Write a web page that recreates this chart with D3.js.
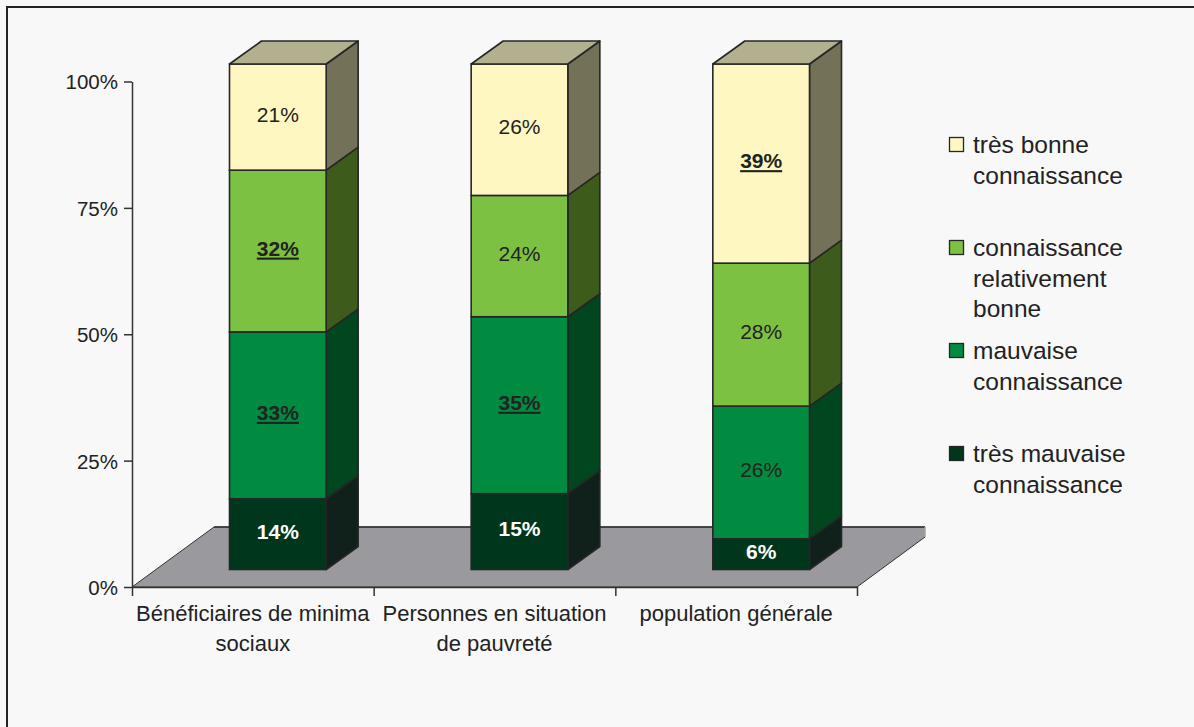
<!DOCTYPE html>
<html lang="fr">
<head>
<meta charset="utf-8">
<script src="https://cdn.jsdelivr.net/npm/d3@7"></script>
<style>
  html, body { margin: 0; padding: 0; background: #f8f8f8; }
  svg { display: block; font-family: "Liberation Sans", Arial, Helvetica, sans-serif; }
</style>
</head>
<body>
<svg id="chart" width="1194" height="727"></svg>
<script>
// Categories (x axis), each split into its displayed lines
const categories = ["Bénéficiaires de minima sociaux", "Personnes en situation de pauvreté", "population générale"];
const categoryLines = [["Bénéficiaires de minima", "sociaux"], ["Personnes en situation", "de pauvreté"], ["population générale"]];

// Series, stacked from bottom to top
const seriesKeys = ["tresMauvaise", "mauvaise", "relBonne", "tresBonne"];
const seriesNames = ["très mauvaise connaissance", "mauvaise connaissance", "connaissance relativement bonne", "très bonne connaissance"];
const legendLines = [["très mauvaise", "connaissance"], ["mauvaise", "connaissance"], ["connaissance", "relativement", "bonne"], ["très bonne", "connaissance"]];

// Shares (%) per category
const tresMauvaise = [14, 15, 6];
const mauvaise     = [33, 35, 26];
const relBonne     = [32, 24, 28];
const tresBonne    = [21, 26, 39];

// Labels shown bold and underlined
const emphMauvaise  = [true, true, false];
const emphRelBonne  = [true, false, false];
const emphTresBonne = [false, false, true];

const yTicks = [0, 0.25, 0.5, 0.75, 1];

// Face colours per series: front, side
const frontColors = ["#00361c", "#008b41", "#7dc142", "#fff7c1"];
const sideColors  = ["#10201a", "#00461f", "#3d5b1a", "#737158"];
const topColor = "#b3b08f";

const rows = categories.map((c, i) => ({
  category: c, i,
  tresMauvaise: tresMauvaise[i], mauvaise: mauvaise[i], relBonne: relBonne[i], tresBonne: tresBonne[i]
}));
const emphasis = {
  tresMauvaise: [false, false, false],
  mauvaise: emphMauvaise, relBonne: emphRelBonne, tresBonne: emphTresBonne
};

const stacked = d3.stack().keys(seriesKeys).offset(d3.stackOffsetExpand)(rows);

const svg = d3.select("#chart");

// Chart frame
svg.append("rect")
  .attr("x", 7).attr("y", 7).attr("width", 1250).attr("height", 800)
  .attr("fill", "#f8f8f8").attr("stroke", "#222").attr("stroke-width", 2);

// Front plane geometry
const x0 = 132, x1 = 857, yBase = 587, yTop = 81.5;
const floorDepth = [82, -60];   // projection of the full floor depth
const barShift = [25, -17.5];   // bar front face placed inside the floor
const barDepth = [32, -23];     // bar thickness

const x = d3.scaleBand().domain(categories).range([x0, x1]).paddingInner(0.6).paddingOuter(0.3);
const xEdges = d3.scaleLinear().domain([0, categories.length]).range([x0, x1]);
const y = d3.scaleLinear().domain([0, 1]).range([yBase, yTop]);

// Floor
const floorPts = [
  [x0, yBase],
  [x0 + floorDepth[0], yBase + floorDepth[1]],
  [x1 + floorDepth[0] - 14, yBase + floorDepth[1]],
  [x1 + floorDepth[0] - 14, yBase + floorDepth[1] + 10],
  [x1, yBase]
];
svg.append("polygon")
  .attr("points", floorPts.map(p => p.join(",")).join(" "))
  .attr("fill", "#9a9a9e").attr("stroke", "#333").attr("stroke-width", 1);
svg.append("line")
  .attr("x1", floorPts[1][0]).attr("y1", floorPts[1][1])
  .attr("x2", floorPts[2][0]).attr("y2", floorPts[2][1])
  .attr("stroke", "#333").attr("stroke-width", 1.6);
svg.append("line")
  .attr("x1", floorPts[2][0]).attr("y1", floorPts[2][1])
  .attr("x2", floorPts[3][0]).attr("y2", floorPts[3][1])
  .attr("stroke", "#ddd").attr("stroke-width", 1);

// Y axis
const yAxis = svg.append("g")
  .attr("transform", `translate(${x0},0)`)
  .call(d3.axisLeft(y).tickValues(yTicks).tickFormat(d3.format(".0%")).tickSize(8).tickSizeOuter(0));
yAxis.select(".domain").attr("stroke", "#333").attr("stroke-width", 1.5);
yAxis.selectAll(".tick line").attr("stroke", "#333").attr("stroke-width", 1.5);
yAxis.selectAll(".tick text")
  .attr("x", -14).attr("dy", "0.36em")
  .attr("fill", "#222").attr("font-size", "20.5px").attr("font-family", null);

// X axis (ticks between categories)
const xAxis = svg.append("g")
  .attr("transform", `translate(0,${yBase})`)
  .call(d3.axisBottom(xEdges).tickValues(d3.range(categories.length + 1)).tickFormat("").tickSize(9).tickSizeOuter(0));
xAxis.select(".domain").attr("stroke", "#333").attr("stroke-width", 1.5);
xAxis.selectAll(".tick line").attr("stroke", "#333").attr("stroke-width", 1.5);

// Category labels
categories.forEach((c, i) => {
  const t = svg.append("text")
    .attr("text-anchor", "middle")
    .attr("font-size", "22px").attr("fill", "#222");
  categoryLines[i].forEach((line, k) => {
    t.append("tspan")
      .attr("x", x(c) + x.bandwidth() / 2)
      .attr("y", 621 + k * 30)
      .text(line);
  });
});

// Bars
const bars = svg.append("g");
const pt = (px, py) => `${px},${py}`;
stacked.forEach((layer, s) => {
  layer.forEach((d, i) => {
    const c = categories[i];
    const left = x(c) + barShift[0];
    const right = left + x.bandwidth();
    const yb = y(d[0]) + barShift[1];
    const yt = y(d[1]) + barShift[1];
    const g = bars.append("g");
    // side face
    g.append("polygon")
      .attr("points", [pt(right, yt), pt(right + barDepth[0], yt + barDepth[1]),
                       pt(right + barDepth[0], yb + barDepth[1]), pt(right, yb)].join(" "))
      .attr("fill", sideColors[s]).attr("stroke", "#262626").attr("stroke-width", 1.6)
      .attr("stroke-linejoin", "round");
    // front face
    g.append("rect")
      .attr("x", left).attr("y", yt)
      .attr("width", x.bandwidth()).attr("height", yb - yt)
      .attr("fill", frontColors[s]).attr("stroke", "#262626").attr("stroke-width", 1.6);
    // top face on the last segment
    if (s === stacked.length - 1) {
      g.append("polygon")
        .attr("points", [pt(left, yt), pt(left + barDepth[0], yt + barDepth[1]),
                         pt(right + barDepth[0], yt + barDepth[1]), pt(right, yt)].join(" "))
        .attr("fill", topColor).attr("stroke", "#262626").attr("stroke-width", 1.6)
        .attr("stroke-linejoin", "round");
    }
  });
});

// Value labels
stacked.forEach((layer, s) => {
  const key = seriesKeys[s];
  layer.forEach((d, i) => {
    const c = categories[i];
    const cx = x(c) + barShift[0] + x.bandwidth() / 2;
    const cy = (y(d[0]) + y(d[1])) / 2 + barShift[1] - 3;
    const bottom = s === 0;
    const emph = emphasis[key][i];
    svg.append("text")
      .attr("x", cx).attr("y", cy).attr("dy", "0.36em")
      .attr("text-anchor", "middle")
      .attr("font-size", "21px")
      .attr("font-weight", bottom || emph ? "bold" : "normal")
      .attr("text-decoration", emph ? "underline" : null)
      .attr("fill", bottom ? "#ffffff" : "#222")
      .text(d.data[key] + "%");
  });
});

// Legend (top entry first)
const legendY = [137, 240, 343, 446];
const legend = svg.append("g");
seriesKeys.slice().reverse().forEach((key, k) => {
  const s = seriesKeys.length - 1 - k;
  legend.append("rect")
    .attr("x", 949.5).attr("y", legendY[k] + 0.5)
    .attr("width", 14).attr("height", 14)
    .attr("fill", frontColors[s]).attr("stroke", "#262626").attr("stroke-width", 1.3);
  const t = legend.append("text").attr("font-size", "24.5px").attr("fill", "#222");
  legendLines[s].forEach((line, j) => {
    t.append("tspan").attr("x", 973).attr("y", legendY[k] + 16 + j * 30.5).text(line);
  });
});
</script>
</body>
</html>
